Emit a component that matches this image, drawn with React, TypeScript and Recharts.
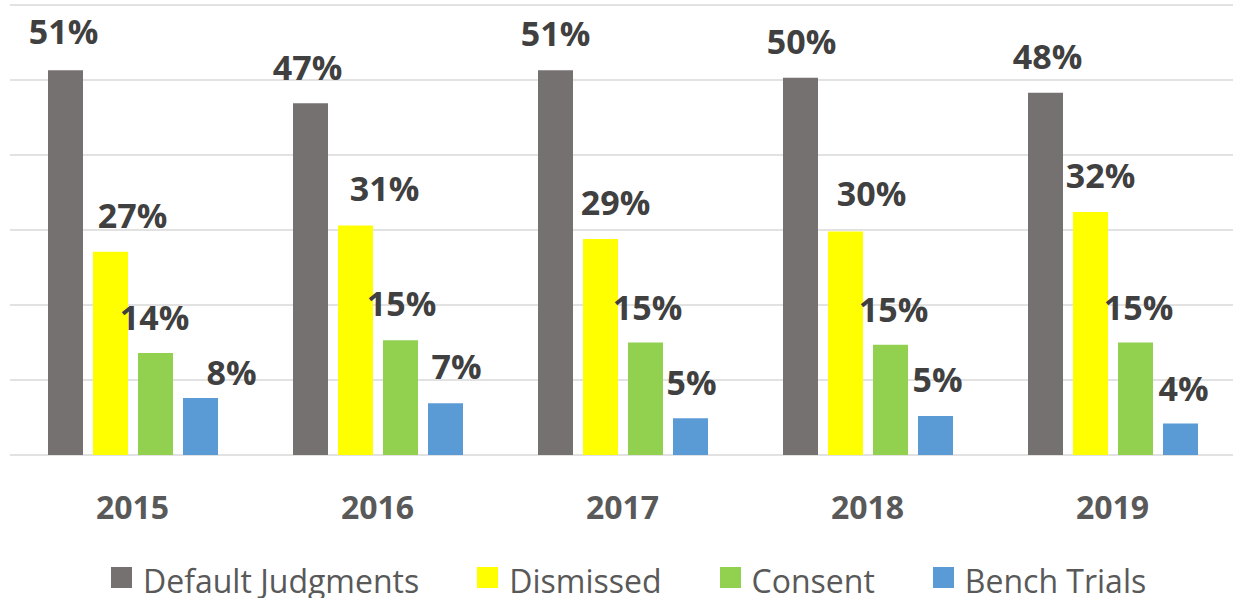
import React from 'react';
import { BarChart, Bar, XAxis, YAxis, CartesianGrid, LabelList, Legend } from 'recharts';

const years = ['2015', '2016', '2017', '2018', '2019'];
const defaultJudgments = [51.3, 46.9, 51.3, 50.3, 48.3];
const dismissed = [27.1, 30.6, 28.8, 29.8, 32.4];
const consent = [13.6, 15.3, 15.0, 14.7, 15.0];
const benchTrials = [7.6, 6.9, 4.9, 5.2, 4.2];
const yTicks = [0, 10, 20, 30, 40, 50, 60];

const SERIES = [
  { key: 'default', name: 'Default Judgments', color: '#767171', values: defaultJudgments },
  { key: 'dismissed', name: 'Dismissed', color: '#FFFF00', values: dismissed },
  { key: 'consent', name: 'Consent', color: '#92D050', values: consent },
  { key: 'bench', name: 'Bench Trials', color: '#5B9BD5', values: benchTrials },
];

// label nudges (as placed manually in the original)
const LABEL_DX: Record<string, number[]> = {
  default: [-2, -3, 0, 1, 2],
  dismissed: [22, 29, 15, 26, 10],
  consent: [-1, 1, 2, 3, 3],
  bench: [31, 11, 1, 2, 3],
};
const LABEL_DY: Record<string, number[]> = {
  default: [-26, -23, -24, -24, -24],
  dismissed: [-24, -25, -24, -26, -24],
  consent: [-23, -24, -23, -23, -23],
  bench: [-13, -24, -23, -24, -23],
};

const data = years.map((y, i) => {
  const row: any = { year: y };
  SERIES.forEach((s) => (row[s.key] = s.values[i]));
  return row;
});

const FONT = '"Open Sans", "Noto Sans", sans-serif';

const makeLabel = (key: string) => (props: any) => {
  const vb = props.viewBox || {};
  const x = props.x ?? vb.x;
  const y = props.y ?? vb.y;
  const w = props.width ?? vb.width;
  const i = props.index ?? 0;
  return (
    <text
      x={x + w / 2 + LABEL_DX[key][i]}
      y={y + LABEL_DY[key][i]}
      textAnchor="middle"
      fontFamily={FONT}
      fontWeight={700}
      fontSize={34}
      fill="#404040"
    >
      {Math.round(Number(props.value))}%
    </text>
  );
};

const YearTick = (props: any) => {
  const { x, y, payload } = props;
  return (
    <text x={x} y={y + 64} textAnchor="middle" fontFamily={FONT} fontWeight={700} fontSize={32} fill="#595959">
      {payload.value}
    </text>
  );
};

const LegendContent = () => (
  <div style={{ display: 'flex', paddingLeft: 111, fontFamily: FONT, fontSize: 32, lineHeight: '32px', color: '#595959' }}>
    {SERIES.map((s) => (
      <div key={s.key} style={{ display: 'flex', alignItems: 'flex-start', marginRight: 58 }}>
        <span style={{ width: 21, height: 21, background: s.color, marginTop: 2, marginRight: 11, display: 'inline-block' }} />
        <span style={{ whiteSpace: 'nowrap' }}>{s.name}</span>
      </div>
    ))}
  </div>
);

export default function App() {
  return (
    <div style={{ position: 'absolute', left: 0, top: 0, width: 1233, height: 598, overflow: 'hidden', background: '#fff' }}>
      <BarChart
        width={1235}
        height={598}
        data={data}
        margin={{ top: 5, right: 0, left: 10, bottom: 0 }}
        barSize={35}
        barGap={10}
      >
        <CartesianGrid vertical={false} stroke="#D9D9D9" strokeWidth={1.5} />
        <XAxis
          dataKey="year"
          height={143}
          axisLine={false}
          tickLine={false}
          tickSize={0}
          tickMargin={0}
          tick={<YearTick />}
          interval={0}
        />
        <YAxis hide domain={[0, 60]} ticks={yTicks} />
        <Legend
          verticalAlign="middle"
          content={<LegendContent />}
          wrapperStyle={{ left: 0, top: 565, width: 1233, height: 32 }}
        />
        {SERIES.map((s) => (
          <Bar key={s.key} dataKey={s.key} name={s.name} fill={s.color} isAnimationActive={false}>
            <LabelList dataKey={s.key} content={makeLabel(s.key)} />
          </Bar>
        ))}
      </BarChart>
    </div>
  );
}
